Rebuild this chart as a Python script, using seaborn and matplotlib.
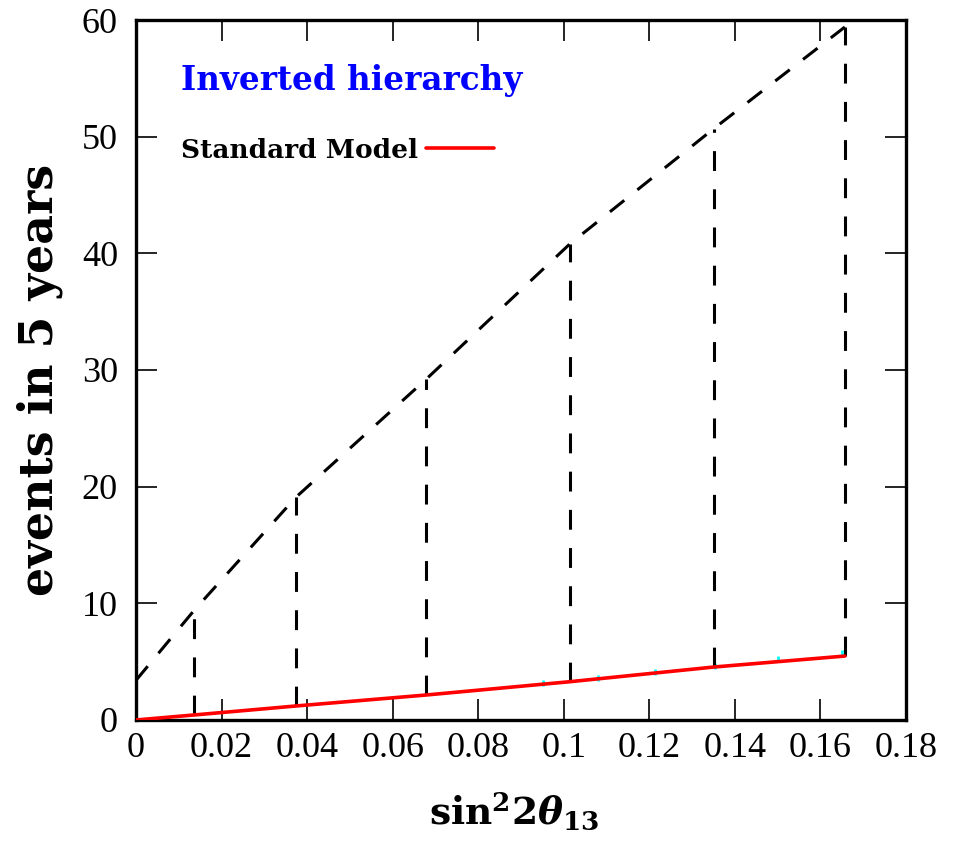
import matplotlib
matplotlib.use("Agg")
import matplotlib.pyplot as plt
import seaborn as sns
import pandas as pd
from matplotlib.lines import Line2D

# sin^2(2 theta_13) sample points
theta_vals = [0.0, 0.0136, 0.0374, 0.0678, 0.1014, 0.1351, 0.1657]
# events expected with new physics (dashed) and in the Standard Model (red)
new_physics = [3.4, 9.4, 19.1, 29.2, 40.8, 50.7, 59.4]
standard_model = [0.0, 0.43, 1.2, 2.14, 3.28, 4.54, 5.48]
# faint secondary curve peeking above the SM line
aux_x = [0.0951, 0.108, 0.1213, 0.1353, 0.150, 0.165]
aux_y = [3.17, 3.6, 4.11, 4.63, 5.23, 5.74]

x_ticks = [0, 0.02, 0.04, 0.06, 0.08, 0.1, 0.12, 0.14, 0.16, 0.18]
x_tick_labels = ["0", "0.02", "0.04", "0.06", "0.08", "0.1", "0.12", "0.14", "0.16", "0.18"]
y_ticks = [0, 10, 20, 30, 40, 50, 60]

sns.set_theme(style="ticks")
plt.rcParams["font.family"] = ["Liberation Serif", "DejaVu Serif"]
plt.rcParams["mathtext.fontset"] = "dejavuserif"
for key in ("text.color", "axes.labelcolor", "xtick.color", "ytick.color", "axes.edgecolor"):
    plt.rcParams[key] = "black"

df = pd.DataFrame({"x": theta_vals, "np": new_physics, "sm": standard_model})

fig = plt.figure(figsize=(9.55, 8.41), dpi=100)
ax = fig.add_axes([0.1424, 0.1439, 0.8063, 0.8323])

sns.lineplot(data=df, x="x", y="np", ax=ax, color="black", lw=2.2,
             dashes=False, zorder=3).lines[-1].set_dashes((6, 5.5))
ax.vlines(theta_vals[1:], standard_model[1:], new_physics[1:], colors="black",
          linestyles=(0, (6.5, 6)), lw=2.2, zorder=3)
ax.plot(aux_x, aux_y, ls="none", marker="|", ms=5, mew=2, color="cyan", zorder=2)
sns.lineplot(data=df, x="x", y="sm", ax=ax, color="red", lw=2.6, zorder=4)

ax.set_xlim(0, 0.18)
ax.set_ylim(0, 60)
ax.set_xticks(x_ticks)
ax.set_xticklabels(x_tick_labels)
ax.set_yticks(y_ticks)
ax.tick_params(direction="in", length=15, width=1.2, top=True, right=True,
               labelsize=26, color="black", labelcolor="black")
ax.tick_params(axis="x", pad=9)
ax.tick_params(axis="y", pad=13)
for s in ax.spines.values():
    s.set_linewidth(2.4)
    s.set_color("black")
    s.set_visible(True)

ax.set_xlabel(r"$\mathbf{sin}^{\mathbf{2}}\mathbf{2}\boldsymbol{\theta}_{\mathbf{13}}$", fontsize=27)
ax.xaxis.set_label_coords(0.4916, -0.101)
ax.set_ylabel("events in 5 years", fontsize=33, fontweight="bold", family="DejaVu Serif")
ax.yaxis.set_label_coords(-0.095, 0.486)

ax.text(0.0584, 0.914, "Inverted hierarchy", transform=ax.transAxes, color="blue",
        fontsize=23.5, fontweight="bold", family="DejaVu Serif", va="center", ha="left")

handle = Line2D([], [], color="red", lw=2.6)
leg = ax.legend([handle], ["Standard Model"], loc="center left",
                bbox_to_anchor=(0.0584, 0.814), frameon=False, markerfirst=False,
                borderpad=0, borderaxespad=0, handlelength=2.6, handletextpad=0.3,
                labelcolor="black",
                prop={"family": "DejaVu Serif", "weight": "bold", "size": 19})

fig.savefig("out.png", dpi=100, facecolor="white")
